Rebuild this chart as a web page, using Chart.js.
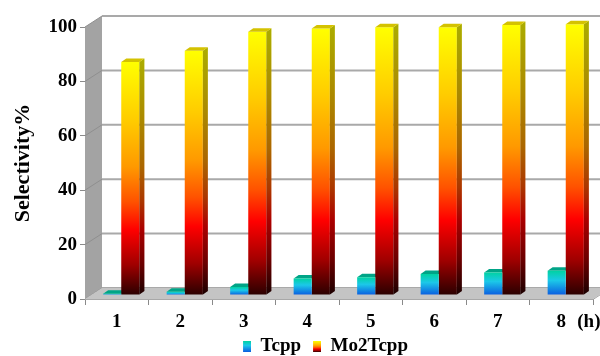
<!DOCTYPE html>
<html>
<head>
<meta charset="utf-8">
<script src="https://cdn.jsdelivr.net/npm/chart.js@4/dist/chart.umd.min.js"></script>
<style>
  html, body { margin: 0; padding: 0; background: #ffffff; }
  #c { display: block; }
</style>
</head>
<body>
<canvas id="c" width="600" height="356"></canvas>
<script>
// Reaction time (h) and selectivity (%) of the two catalysts
const hours = ['1', '2', '3', '4', '5', '6', '7', '8'];
const tcpp = [0.5, 1.2, 2.9, 6.1, 6.5, 7.7, 8.3, 8.9];
const mo2tcpp = [85.7, 89.8, 96.8, 98.0, 98.4, 98.4, 99.3, 99.5];
const yTicks = [0, 20, 40, 60, 80, 100];

// Pseudo-3D geometry (pixels)
const WALL = { dx: 17, dy: -11 };      // depth of the whole plot box
const BAR_SHIFT = { dx: 4.5, dy: -4 }; // bars stand part-way into the box
const BAR_DEPTH = { dx: 5, dy: -3.5 }; // thickness of each column

const MO_STOPS = [[0, '#ffff00'], [0.25, '#ffcc00'], [0.45, '#ff9900'], [0.6, '#ff5200'],
                  [0.72, '#ff0000'], [0.87, '#a00000'], [1, '#2a0000']];
const TC_STOPS = [[0, '#00d2a2'], [0.4, '#1cc8e8'], [1, '#0a5ce0']];

const serif = 'Liberation Serif, Times New Roman, serif';
const TICK_SIZE = 19;
const X_TICK_PAD = 6;

function vGradient(ctx, top, bottom, stops) {
  const g = ctx.createLinearGradient(0, top, 0, bottom);
  stops.forEach(([o, c]) => g.addColorStop(o, c));
  return g;
}

function barFill(stops, fallback) {
  return (c) => {
    const chart = c.chart;
    if (!chart.chartArea || !c.parsed) return fallback;
    const y = chart.scales.y;
    return vGradient(chart.ctx, y.getPixelForValue(c.parsed.y), y.getPixelForValue(0), stops);
  };
}

// legend swatch: 8x11 gradient block with a transparent lead-in for item spacing
function legendIcon(stops) {
  const cv = document.createElement('canvas');
  cv.width = 16; cv.height = 11;
  const g = cv.getContext('2d');
  g.fillStyle = vGradient(g, 0, 11, stops);
  g.fillRect(8, 0, 8, 11);
  return cv;
}
const icons = [legendIcon(TC_STOPS), legendIcon(MO_STOPS)];

function poly(ctx, pts, fill) {
  ctx.beginPath();
  ctx.moveTo(pts[0][0], pts[0][1]);
  for (let i = 1; i < pts.length; i++) ctx.lineTo(pts[i][0], pts[i][1]);
  ctx.closePath();
  ctx.fillStyle = fill;
  ctx.fill();
}

function barBox(el) {
  const p = el.getProps(['x', 'y', 'base', 'width'], true);
  return { L: p.x - p.width / 2, R: p.x + p.width / 2, T: Math.min(p.y, p.base), B: Math.max(p.y, p.base) };
}

function topFace(ctx, b, fill) {
  const d = BAR_DEPTH;
  poly(ctx, [[b.L, b.T], [b.L + d.dx, b.T + d.dy], [b.R + d.dx, b.T + d.dy], [b.R, b.T]], fill);
}

function sideFace(ctx, b, stops) {
  const d = BAR_DEPTH;
  const pts = [[b.R, b.T], [b.R + d.dx, b.T + d.dy], [b.R + d.dx, b.B + d.dy], [b.R, b.B]];
  poly(ctx, pts, vGradient(ctx, b.T, b.B, stops));
  poly(ctx, pts, 'rgba(0,0,0,0.33)');
}

// Walls, floor and the third dimension of the columns
const box3d = {
  id: 'box3d',
  afterLayout(chart) {
    // legend sits a little right of the canvas centre
    const lg = chart.legend;
    if (lg) { lg.left += 25; lg.right += 25; }
  },
  beforeDatasetsDraw(chart) {
    const { ctx, chartArea: a, scales: { y } } = chart;
    const x0 = a.left, x1 = a.right;
    const y0 = y.getPixelForValue(0), y100 = y.getPixelForValue(100);
    ctx.save();
    // back wall grid
    ctx.strokeStyle = '#a9a9a9';
    ctx.lineWidth = 2;
    yTicks.forEach(v => {
      const py = y.getPixelForValue(v) + WALL.dy;
      ctx.beginPath();
      ctx.moveTo(x0 + WALL.dx, py);
      ctx.lineTo(x1 + WALL.dx, py);
      ctx.stroke();
    });
    // left wall
    poly(ctx, [[x0, y100], [x0 + WALL.dx, y100 + WALL.dy], [x0 + WALL.dx, y0 + WALL.dy], [x0, y0]], '#a3a3a3');
    ctx.strokeStyle = '#8f8f8f';
    ctx.lineWidth = 1;
    yTicks.forEach(v => {
      const py = y.getPixelForValue(v);
      ctx.beginPath();
      ctx.moveTo(x0, py);
      ctx.lineTo(x0 + WALL.dx, py + WALL.dy);
      ctx.stroke();
    });
    // floor
    poly(ctx, [[x0, y0], [x1, y0], [x1 + WALL.dx, y0 + WALL.dy], [x0 + WALL.dx, y0 + WALL.dy]], '#c4c4c4');
    ctx.strokeStyle = '#a8a8a8';
    ctx.beginPath();
    ctx.moveTo(x0, y0 + 0.5); ctx.lineTo(x1, y0 + 0.5); ctx.lineTo(x1 + WALL.dx, y0 + WALL.dy + 0.5);
    ctx.stroke();
    ctx.restore();

    // columns are drawn set back into the box
    ctx.save();
    ctx.translate(BAR_SHIFT.dx, BAR_SHIFT.dy);
    chart.getDatasetMeta(0).data.forEach(el => topFace(ctx, barBox(el), '#00a487'));
  },
  afterDatasetsDraw(chart) {
    const ctx = chart.ctx;
    chart.getDatasetMeta(1).data.forEach(el => {
      const b = barBox(el);
      sideFace(ctx, b, MO_STOPS);
      topFace(ctx, b, '#d4c200');
    });
    ctx.restore();
  },
  afterDraw(chart) {
    const { ctx, chartArea: a, scales: { x } } = chart;
    ctx.save();
    ctx.font = 'bold ' + TICK_SIZE + 'px ' + serif;
    ctx.fillStyle = '#000';
    ctx.textAlign = 'left';
    ctx.textBaseline = 'middle';
    ctx.fillText('(h)', x.getPixelForValue(7) + 16, a.bottom + 6 + X_TICK_PAD + TICK_SIZE * 0.6);
    ctx.restore();
  }
};

new Chart(document.getElementById('c'), {
  type: 'bar',
  data: {
    labels: hours,
    datasets: [
      { label: 'Tcpp', data: tcpp, backgroundColor: barFill(TC_STOPS, '#1cc8e8'),
        borderWidth: 0, barPercentage: 1.0, categoryPercentage: 0.57 },
      { label: 'Mo2Tcpp', data: mo2tcpp, backgroundColor: barFill(MO_STOPS, '#ff9900'),
        borderWidth: 0, barPercentage: 1.0, categoryPercentage: 0.57 }
    ]
  },
  options: {
    responsive: false,
    animation: false,
    devicePixelRatio: 1,
    layout: { padding: { top: 27, right: 7, bottom: -10, left: 0 } },
    scales: {
      x: {
        grid: { drawOnChartArea: false, tickLength: 6, color: '#8a8a8a', offset: true },
        border: { display: false },
        ticks: { color: '#000', padding: X_TICK_PAD, font: { family: serif, weight: 'bold', size: TICK_SIZE } },
        afterFit: s => { s.height = 34; }
      },
      y: {
        min: 0, max: 100,
        grid: { drawOnChartArea: false, tickLength: 5, color: '#8a8a8a' },
        border: { display: false },
        ticks: { stepSize: 20, color: '#000', padding: 3, font: { family: serif, weight: 'bold', size: TICK_SIZE } },
        title: { display: true, text: 'Selectivity%', color: '#000', padding: { top: 10, bottom: 0 },
                 font: { family: serif, weight: 'bold', size: 22 } },
        afterFit: s => { s.width = 85; }
      }
    },
    plugins: {
      tooltip: { enabled: false },
      legend: {
        position: 'bottom',
        labels: {
          usePointStyle: true,
          pointStyleWidth: 16,
          padding: 4,
          color: '#000',
          font: { family: serif, weight: 'bold', size: 19 },
          generateLabels: chart => chart.data.datasets.map((ds, i) => ({
            text: ds.label, pointStyle: icons[i], datasetIndex: i,
            fillStyle: 'transparent', strokeStyle: 'transparent', lineWidth: 0, hidden: false
          }))
        }
      }
    }
  },
  plugins: [box3d]
});
</script>
</body>
</html>
